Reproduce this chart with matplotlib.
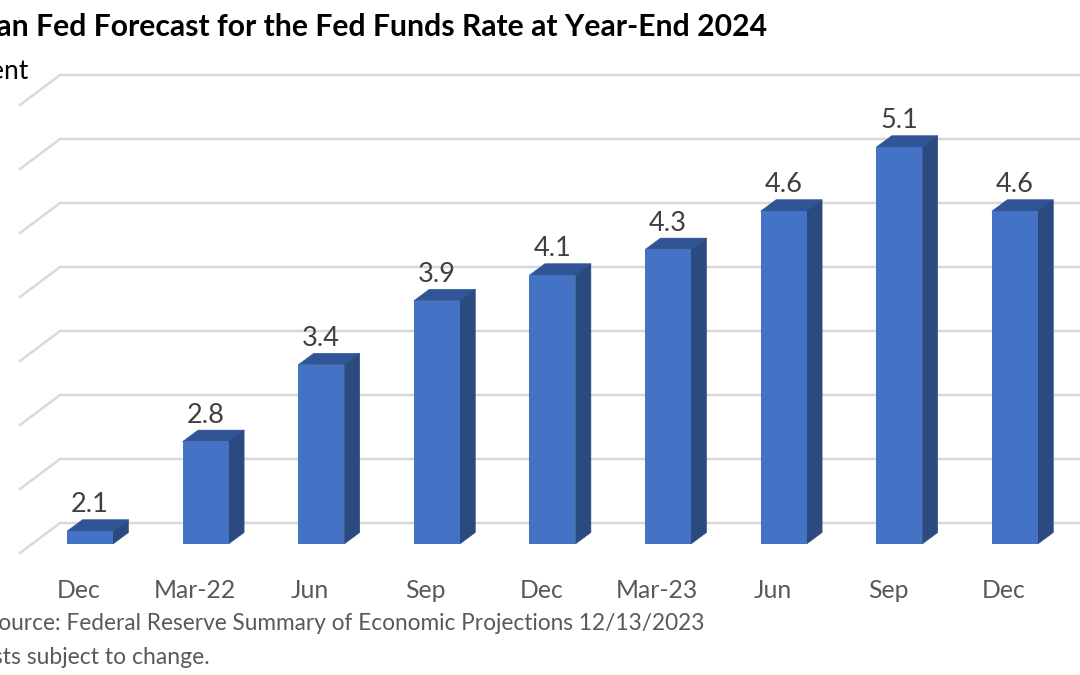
import numpy as np
import matplotlib
matplotlib.use("Agg")
import matplotlib.pyplot as plt
from matplotlib.patches import Polygon

categories = ["Dec", "Mar-22", "Jun", "Sep", "Dec", "Mar-23", "Jun", "Sep", "Dec"]
values = [2.1, 2.8, 3.4, 3.9, 4.1, 4.3, 4.6, 5.1, 4.6]
grid_values = [2.0, 2.5, 3.0, 3.5, 4.0, 4.5, 5.0, 5.5]
title = "Median Fed Forecast for the Fed Funds Rate at Year-End 2024"
unit = "Percent"
source = "Source: Federal Reserve Summary of Economic Projections 12/13/2023"
note = "Forecasts subject to change."

W, H = 1080, 675
plt.rcParams["font.family"] = ["Lato", "DejaVu Sans"]
fig = plt.figure(figsize=(W / 100, H / 100), dpi=100, facecolor="white")

# axes: bottom edge on the front floor line (y=544 px), full width
ax = fig.add_axes([0, (H - 544) / H, 1, 544 / H])
PX_PER_CAT = 115.6
PX_PER_VAL = 128.0
FIRST_CENTRE = 90.0
ax.set_xlim(-FIRST_CENTRE / PX_PER_CAT, (W - FIRST_CENTRE) / PX_PER_CAT)
ax.set_ylim(2.0, 2.0 + 544 / PX_PER_VAL)
for s in ax.spines.values():
    s.set_visible(False)
ax.patch.set_visible(False)

dx = 15.5 / PX_PER_CAT
dy = 11.5 / PX_PER_VAL
bw = 46 / PX_PER_CAT
x = np.arange(len(values))

# gridlines: floor slant then back wall
gx0 = (20 - FIRST_CENTRE) / PX_PER_CAT
gx1 = (60 - FIRST_CENTRE) / PX_PER_CAT
gx2 = ax.get_xlim()[1]
back = 21 / PX_PER_VAL
slant = 30 / PX_PER_VAL
for g in grid_values:
    ax.plot([gx0, gx1, gx2], [g + back - slant, g + back, g + back],
            color="#D9D9D9", lw=1.8, clip_on=False, zorder=1, solid_joinstyle="miter")

ax.bar(x, values, width=bw, color="#4472C4", zorder=4)
for xi, v in zip(x, values):
    l, r = xi - bw / 2, xi + bw / 2
    ax.add_patch(Polygon([(l, v), (r, v), (r + dx, v + dy), (l + dx, v + dy)],
                         closed=True, fc="#2F5597", ec="#2F5597", lw=0.4, zorder=3))
    ax.add_patch(Polygon([(r, 2.0), (r, v), (r + dx, v + dy), (r + dx, 2.0 + dy)],
                         closed=True, fc="#2A4A80", ec="#2A4A80", lw=0.4, zorder=3))
    ax.annotate(f"{v:.1f}", (xi, v), xytext=(0, 13.5), textcoords="offset points",
                ha="center", va="baseline", fontsize=19.5, color="#404040", zorder=5)

ax.set_yticks([])
ax.set_xticks(x - 11 / PX_PER_CAT)
ax.set_xticklabels(categories, fontsize=17.8, color="#595959")
ax.tick_params(axis="x", length=0, pad=25)


def fig_text(px, py, s, **kw):
    return fig.text(px / W, 1 - py / H, s, ha="right", va="baseline", **kw)


fig_text(767, 36.5, title, fontsize=21.7, fontweight="bold", color="black")
fig_text(29, 79, unit, fontsize=19, color="black")
fig_text(704, 630.5, source, fontsize=16.3, color="#595959")
fig_text(210, 664.5, note, fontsize=16.5, color="#595959")

fig.savefig("out.png", dpi=100)
